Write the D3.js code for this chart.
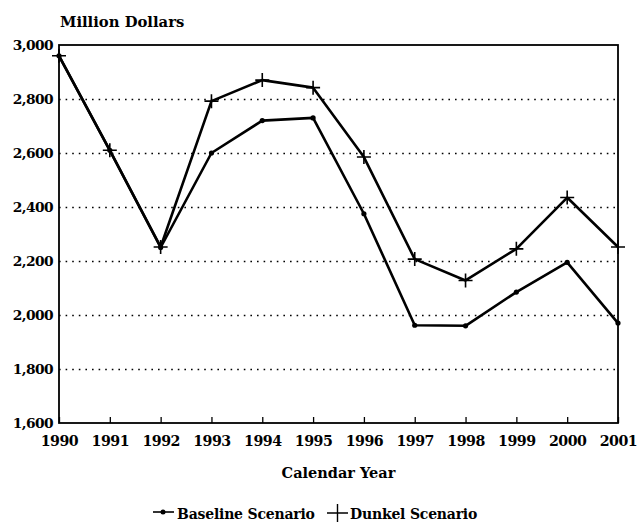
<!DOCTYPE html>
<html>
<head>
<meta charset="utf-8">
<script src="https://cdn.jsdelivr.net/npm/d3@7"></script>
<style>
	body { margin: 0; background: #fff; }
	svg text { font-family: "DejaVu Serif", serif; font-weight: bold; fill: #000; }
</style>
</head>
<body>
<svg id="chart" width="637" height="522"></svg>
<script>
// DATA
const years = [1990, 1991, 1992, 1993, 1994, 1995, 1996, 1997, 1998, 1999, 2000, 2001];
const baseline = [2960, 2610, 2250, 2600, 2720, 2730, 2375, 1962, 1960, 2085, 2195, 1970];
const dunkel = [2960, 2610, 2252, 2792, 2870, 2842, 2585, 2207, 2128, 2245, 2435, 2252];
const yTicks = [1600, 1800, 2000, 2200, 2400, 2600, 2800, 3000];

var svg = d3.select('#chart');

var margin = {left: 59, right: 19, top: 45, bottom: 99},
	width = 637 - margin.left - margin.right,
	height = 522 - margin.top - margin.bottom;

var x = d3.scaleLinear().domain([1990, 2001]).range([0, width]);
var y = d3.scaleLinear().domain([1600, 3000]).range([height, 0]);

var g = svg.append('g').attr('transform', `translate(${margin.left},${margin.top})`);

// dotted gridlines
g.append('g')
	.call(d3.axisLeft(y).tickValues(yTicks.slice(1, -1)).tickSize(-width).tickFormat(''))
	.call(s => s.select('.domain').remove())
	.selectAll('line')
	.attr('stroke', '#000')
	.attr('stroke-width', 1.6)
	.attr('stroke-dasharray', '1.6,5');

// frame
g.append('rect')
	.attr('width', width).attr('height', height)
	.attr('fill', 'none').attr('stroke', '#000').attr('stroke-width', 1.8);

// y labels
g.append('g')
	.call(d3.axisLeft(y).tickValues(yTicks).tickSize(0).tickPadding(6).tickFormat(d3.format(',')))
	.call(s => s.select('.domain').remove())
	.selectAll('text')
	.attr('font-size', 13.8)
	.style('font-family', '"DejaVu Serif", serif')
	.style('font-weight', 'bold')
	.attr('letter-spacing', -0.6);

// x axis ticks (inside) and labels
var xAxis = g.append('g')
	.attr('transform', `translate(0,${height})`)
	.call(d3.axisBottom(x).tickValues(years).tickSize(-6).tickPadding(8).tickFormat(d3.format('d')));
xAxis.select('.domain').remove();
xAxis.selectAll('line').attr('stroke', '#000').attr('stroke-width', 1.3);
xAxis.selectAll('text')
	.attr('dy', '1.05em')
	.attr('font-size', 14.2)
	.style('font-family', '"DejaVu Serif", serif')
	.style('font-weight', 'bold')
	.attr('letter-spacing', -0.5);

var line = d3.line().x((d, i) => x(years[i])).y(d => y(d));

[baseline, dunkel].forEach(series => {
	g.append('path')
		.datum(series)
		.attr('fill', 'none')
		.attr('stroke', '#000')
		.attr('stroke-width', 2.6)
		.attr('stroke-linejoin', 'round')
		.attr('d', line);
});

// baseline markers: small dots
g.selectAll('.dot')
	.data(baseline)
	.enter().append('circle')
	.attr('cx', (d, i) => x(years[i]))
	.attr('cy', d => y(d))
	.attr('r', 2.6)
	.attr('fill', '#000');

// dunkel markers: plus signs
g.selectAll('.plus')
	.data(dunkel)
	.enter().append('path')
	.attr('transform', (d, i) => `translate(${x(years[i])},${y(d)})`)
	.attr('d', 'M-7,0H7M0,-7V7')
	.attr('stroke', '#000')
	.attr('stroke-width', 1.6);

// titles
svg.append('text')
	.attr('x', 60).attr('y', 27)
	.attr('font-size', 14.8)
	.text('Million Dollars');

svg.append('text')
	.attr('x', margin.left + width / 2).attr('y', 478)
	.attr('text-anchor', 'middle')
	.attr('font-size', 14.5)
	.text('Calendar Year');

// legend
var legend = svg.append('g').attr('transform', 'translate(0,513)');
legend.append('line').attr('x1', 153).attr('x2', 174).attr('y1', -1).attr('y2', -1)
	.attr('stroke', '#000').attr('stroke-width', 1.6);
legend.append('circle').attr('cx', 163).attr('cy', -1).attr('r', 2.5);
legend.append('text').attr('x', 177).attr('y', 6)
	.attr('font-size', 14).attr('letter-spacing', -0.2)
	.text('Baseline Scenario');
legend.append('path').attr('d', 'M327,0H348M337.5,-9V9')
	.attr('stroke', '#000').attr('stroke-width', 1.4);
legend.append('text').attr('x', 350).attr('y', 6)
	.attr('font-size', 14).attr('letter-spacing', -0.2)
	.text('Dunkel Scenario');
</script>
</body>
</html>
